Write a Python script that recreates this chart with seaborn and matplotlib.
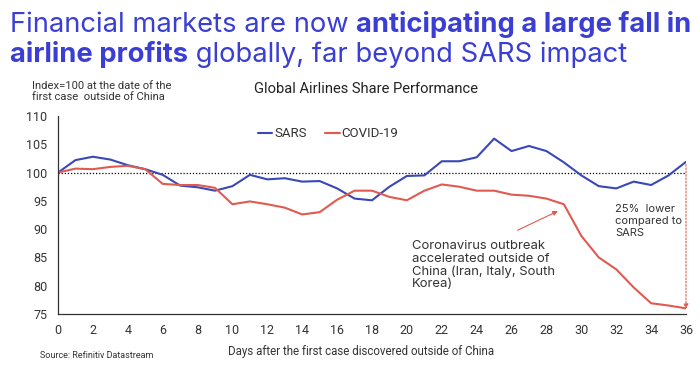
"""Global airlines share performance: SARS vs COVID-19."""

import matplotlib

matplotlib.use("Agg")
import matplotlib.pyplot as plt
import numpy as np
import pandas as pd
import seaborn as sns

days = list(range(37))
sars = [100.0, 102.2, 102.8, 102.3, 101.3, 100.6, 99.6, 97.7, 97.4, 96.8,
        97.6, 99.6, 98.8, 99.0, 98.4, 98.5, 97.2, 95.4, 95.1, 97.5,
        99.4, 99.5, 102.0, 102.0, 102.7, 106.0, 103.8, 104.7, 103.8, 101.8,
        99.5, 97.6, 97.2, 98.4, 97.8, 99.5, 101.9]
covid = [100.0, 100.7, 100.6, 101.0, 101.2, 100.6, 98.0, 97.8, 97.8, 97.3,
         94.4, 94.9, 94.4, 93.8, 92.6, 93.0, 95.2, 96.8, 96.8, 95.7,
         95.1, 96.8, 97.9, 97.5, 96.8, 96.8, 96.1, 95.9, 95.4, 94.4,
         88.8, 85.0, 82.9, 79.7, 76.9, 76.5, 76.0]
series_names = ["SARS", "COVID-19"]
y_ticks = [75, 80, 85, 90, 95, 100, 105, 110]
x_ticks = list(range(0, 37, 2))

BLUE = "#3848b8"
RED = "#e05a50"
HEAD = "#3a3ed4"
TXT = "#333333"
WIDE = ["Inter", "DejaVu Sans"]

sns.set_style("white")
plt.rcParams["font.family"] = ["Roboto", "DejaVu Sans"]

df = pd.DataFrame({
    "day": days * 2,
    "value": sars + covid,
    "series": [series_names[0]] * len(days) + [series_names[1]] * len(days),
})

fig = plt.figure(figsize=(7, 3.65), dpi=100)
ax = fig.add_axes([58 / 700, (365 - 314) / 365, (686 - 58) / 700, (314 - 116) / 365])

sns.lineplot(data=df, x="day", y="value", hue="series", hue_order=series_names,
             palette=[BLUE, RED], linewidth=1.5, ax=ax, legend=False)

ax.axhline(100, color="black", linestyle=(0, (1, 1.5)), linewidth=0.9, zorder=1)

ax.set_xlim(0, 36)
ax.set_ylim(75, 110)
ax.set_xticks(x_ticks)
ax.set_xticks(days, minor=True)
ax.set_yticks(y_ticks)
ax.tick_params(axis="both", which="both", direction="out", length=4, width=0.8,
               color=TXT, labelsize=9, labelcolor=TXT)
ax.tick_params(axis="x", pad=3)
for side in ["top", "right"]:
    ax.spines[side].set_visible(False)
for side in ["left", "bottom"]:
    ax.spines[side].set_color(TXT)
    ax.spines[side].set_linewidth(0.9)
ax.set_xlabel("")
ax.set_ylabel("")

# legend
handles = [plt.Line2D([], [], color=BLUE, lw=1.5), plt.Line2D([], [], color=RED, lw=1.5)]
ax.legend(handles, series_names, loc="center", bbox_to_anchor=(0.43, 0.91), ncol=2,
          frameon=False, handlelength=1.1, handletextpad=0.15, columnspacing=1.4,
          fontsize=9.5, labelcolor=TXT)

# annotations
ax.annotate("", xy=(days[29] - 0.2, covid[29] - 1.0), xytext=(26.2, 89.6),
            arrowprops=dict(arrowstyle="-|>", color=RED, lw=0.8, mutation_scale=7))
ax.text(20.3, 88.0, "Coronavirus outbreak\naccelerated outside of\nChina (Iran, Italy, South\nKorea)",
        fontsize=9.4, family=WIDE, color=TXT, va="top", ha="left", linespacing=1.05)
ax.text(31.95, 94.4, "25%  lower\ncompared to\nSARS", fontsize=8.0, family=WIDE, color=TXT,
        va="top", ha="left", linespacing=1.25)
ax.annotate("", xy=(days[-1], covid[-1] - 0.6), xytext=(days[-1], sars[-1]),
            annotation_clip=False,
            arrowprops=dict(arrowstyle="-|>", color=RED, lw=0.8, linestyle=(0, (1.5, 1.5)),
                            mutation_scale=7))

# texts around the plot
fig.text(366 / 700, 1 - 89 / 365, "Global Airlines Share Performance", fontsize=10.6,
         color="#222222", ha="center", va="center")
fig.text(32 / 700, 1 - 81 / 365, "Index=100 at the date of the\nfirst case  outside of China",
         fontsize=8.1, color=TXT, ha="left", va="top", linespacing=1.15)
fig.text(361 / 700, 1 - 352 / 365, "Days after the first case discovered outside of China",
         fontsize=8.3, color=TXT, ha="center", va="center")
fig.text(40 / 700, 1 - 355 / 365, "Source: Refinitiv Datastream", fontsize=6.5,
         color=TXT, ha="left", va="center")

# headline with mixed weights
renderer = fig.canvas.get_renderer()
headline = [
    (1 - 31.5 / 365, [("Financial markets are now ", "normal"),
                      ("anticipating a large fall in", "bold")]),
    (1 - 61.5 / 365, [("airline profits", "bold"),
                      (" globally, far beyond SARS impact", "normal")]),
]
for y, parts in headline:
    x = 10 / 700
    for txt, weight in parts:
        t = fig.text(x, y, txt, fontsize=19.7, fontweight=weight, family=WIDE, color=HEAD,
                     ha="left", va="baseline")
        x += t.get_window_extent(renderer).width / fig.bbox.width

fig.savefig("out.png", dpi=100)
